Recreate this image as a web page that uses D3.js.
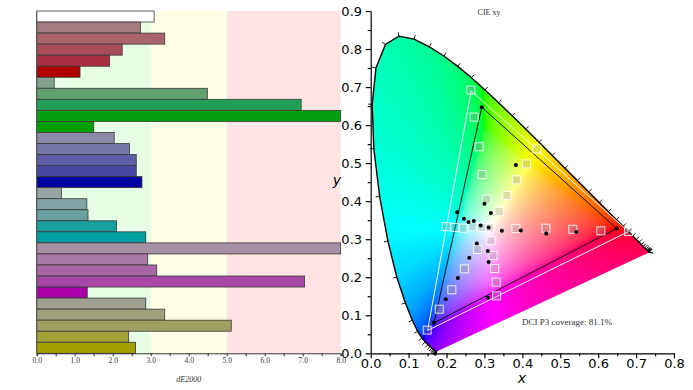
<html>
<head>
    <title>dE2000 and CIE xy</title>
    <script src="https://cdn.jsdelivr.net/npm/d3@7"></script>
    <style>
        body { margin: 0; background: #fff; }
        .serif { font-family: "Liberation Serif", "DejaVu Serif", serif; fill: #333; }
        .sans { font-family: "DejaVu Sans", sans-serif; }
    </style>
</head>
<body>
<script>
    // ---- left chart data: dE2000 per patch ----
    var dE = [3.09, 2.73, 3.37, 2.25, 1.92, 1.14,
              0.46, 4.49, 6.96, 8.0, 1.50,
              2.04, 2.44, 2.62, 2.62, 2.77,
              0.65, 1.32, 1.35, 2.10, 2.87,
              8.0, 2.92, 3.16, 7.05, 1.33,
              2.87, 3.37, 5.12, 2.42, 2.60];
    var barColors = ["#ffffff", "#a67b80", "#a8636b", "#a84c58", "#aa2f40", "#b00000",
                     "#84a08c", "#5fa06c", "#22a055", "#04a010", "#00a000",
                     "#8a8aa6", "#7676a8", "#5e5ea6", "#4848a4", "#0000a0",
                     "#98a4a2", "#80a4a4", "#68a0a2", "#18a0a0", "#00a0a0",
                     "#a890a4", "#a87aa4", "#a866a6", "#a848a6", "#aa00aa",
                     "#a0a090", "#a0a07c", "#a0a062", "#a0a034", "#a0a000"];
    var bandStops = [0, 3, 5, 8];
    var bandColors = ["#e6fde6", "#ffffe6", "#ffe4e4"];

    // ---- CIE 1931 spectral locus, 380-700 nm every 5 nm ----
    var wavelengths = d3.range(380, 701, 5);
    var locusX = [0.1741, 0.1740, 0.1738, 0.1736, 0.1733, 0.1730, 0.1726, 0.1721, 0.1714, 0.1703,
                  0.1689, 0.1669, 0.1644, 0.1611, 0.1566, 0.1510, 0.1440, 0.1355, 0.1241, 0.1096,
                  0.0913, 0.0687, 0.0454, 0.0235, 0.0082, 0.0039, 0.0139, 0.0389, 0.0743, 0.1142,
                  0.1547, 0.1929, 0.2296, 0.2658, 0.3016, 0.3373, 0.3731, 0.4087, 0.4441, 0.4788,
                  0.5125, 0.5448, 0.5752, 0.6029, 0.6270, 0.6482, 0.6658, 0.6801, 0.6915, 0.7006,
                  0.7079, 0.7140, 0.7190, 0.7230, 0.7260, 0.7283, 0.7300, 0.7311, 0.7320, 0.7327,
                  0.7334, 0.7340, 0.7344, 0.7346, 0.7347];
    var locusY = [0.0050, 0.0050, 0.0049, 0.0049, 0.0048, 0.0048, 0.0048, 0.0048, 0.0051, 0.0058,
                  0.0069, 0.0086, 0.0109, 0.0138, 0.0177, 0.0227, 0.0297, 0.0399, 0.0578, 0.0868,
                  0.1327, 0.2007, 0.2950, 0.4127, 0.5384, 0.6548, 0.7502, 0.8120, 0.8338, 0.8262,
                  0.8059, 0.7816, 0.7543, 0.7243, 0.6923, 0.6589, 0.6245, 0.5896, 0.5547, 0.5202,
                  0.4866, 0.4544, 0.4242, 0.3965, 0.3725, 0.3514, 0.3340, 0.3197, 0.3083, 0.2993,
                  0.2920, 0.2859, 0.2809, 0.2770, 0.2740, 0.2717, 0.2700, 0.2689, 0.2680, 0.2673,
                  0.2666, 0.2660, 0.2656, 0.2654, 0.2653];

    // gamut triangles
    var p3Gamut = [[0.680, 0.320], [0.265, 0.690], [0.150, 0.060]];
    var measuredGamut = [[0.649, 0.328], [0.293, 0.647], [0.167, 0.080]];

    // target patches (squares) and measured patches (dots)
    var targets = [[0.314, 0.330],
        [0.383, 0.328], [0.462, 0.329], [0.533, 0.326], [0.607, 0.322], [0.680, 0.320],
        [0.306, 0.405], [0.294, 0.470], [0.286, 0.543], [0.273, 0.621], [0.264, 0.692],
        [0.282, 0.273], [0.247, 0.222], [0.214, 0.167], [0.181, 0.116], [0.149, 0.061],
        [0.293, 0.331], [0.269, 0.333], [0.244, 0.329], [0.222, 0.331], [0.199, 0.333],
        [0.317, 0.296], [0.323, 0.257], [0.327, 0.223], [0.331, 0.187], [0.332, 0.151],
        [0.339, 0.373], [0.359, 0.415], [0.385, 0.456], [0.411, 0.498], [0.438, 0.537]];
    var measured = [[0.311, 0.331], [0.346, 0.322], [0.396, 0.323], [0.463, 0.315], [0.542, 0.319],
        [0.649, 0.328], [0.317, 0.369], [0.300, 0.393], [0.383, 0.495], [0.293, 0.647],
        [0.290, 0.336], [0.272, 0.348], [0.258, 0.345], [0.246, 0.354], [0.228, 0.371],
        [0.280, 0.289], [0.260, 0.251], [0.230, 0.198], [0.198, 0.142], [0.167, 0.080],
        [0.309, 0.269], [0.311, 0.240], [0.309, 0.146]];

    var width = 693, height = 390;

    var svg = d3.select("body").append("svg")
        .attr("width", width)
        .attr("height", height);

    // ================= left: dE2000 bars =================
    var xL = d3.scaleLinear().domain([0, 8]).range([36.7, 340.7]);
    var yL = d3.scaleBand().domain(d3.range(dE.length)).range([11, 353.3]);

    var left = svg.append("g");

    left.selectAll("rect.band")
        .data(bandColors)
        .enter().append("rect")
        .attr("class", "band")
        .attr("x", function(d, i) { return xL(bandStops[i]); })
        .attr("width", function(d, i) { return xL(bandStops[i + 1]) - xL(bandStops[i]); })
        .attr("y", yL.range()[0])
        .attr("height", yL.range()[1] - yL.range()[0])
        .attr("fill", function(d) { return d; });

    left.selectAll("rect.bar")
        .data(dE)
        .enter().append("rect")
        .attr("class", "bar")
        .attr("x", xL(0))
        .attr("y", function(d, i) { return yL(i); })
        .attr("width", function(d) { return xL(d) - xL(0); })
        .attr("height", yL.bandwidth())
        .attr("fill", function(d, i) { return barColors[i]; })
        .attr("stroke", "#3a3a3a")
        .attr("stroke-width", 0.8);

    var axL = left.append("g")
        .attr("transform", "translate(0," + yL.range()[1] + ")")
        .call(d3.axisBottom(xL)
            .tickValues(d3.range(0, 8.01, 0.5))
            .tickSize(3)
            .tickFormat(function(d) { return Number.isInteger(d) ? d.toFixed(1) : ""; }));
    axL.selectAll("text")
        .attr("class", "serif")
        .attr("font-size", 7.5)
        .attr("dy", "0.55em")
        .style("fill", "#333");

    left.append("line")
        .attr("x1", xL(0)).attr("x2", xL(0))
        .attr("y1", yL.range()[0]).attr("y2", yL.range()[1])
        .attr("stroke", "#555");

    left.append("text")
        .attr("class", "serif")
        .attr("x", (xL(0) + xL(8)) / 2)
        .attr("y", 382)
        .attr("text-anchor", "middle")
        .attr("font-size", 8)
        .attr("font-style", "italic")
        .style("fill", "#333")
        .text("dE2000");

    // ================= right: CIE xy =================
    var x = d3.scaleLinear().domain([0, 0.8]).range([370.7, 674]);
    var y = d3.scaleLinear().domain([0, 0.9]).range([353.3, 11]);

    var locus = wavelengths.map(function(w, i) { return [locusX[i], locusY[i]]; });
    var line = d3.line().x(function(d) { return x(d[0]); }).y(function(d) { return y(d[1]); });

    svg.append("clipPath").attr("id", "horseshoe")
        .append("path")
        .attr("d", line(locus) + "Z");

    // colour field: xy -> sRGB, out-of-gamut desaturated, max-normalised
    var canvas = document.createElement("canvas");
    canvas.width = width;
    canvas.height = height;
    var ctx = canvas.getContext("2d");
    var img = ctx.createImageData(width, height);
    function gamma(c) {
        return c <= 0.0031308 ? 12.92 * c : 1.055 * Math.pow(c, 1 / 2.4) - 0.055;
    }
    for (var py = Math.floor(y(0.86)); py <= Math.ceil(y(0)); py++) {
        for (var px = Math.floor(x(0)); px <= Math.ceil(x(0.75)); px++) {
            var cx = x.invert(px + 0.5), cy = y.invert(py + 0.5);
            if (cy <= 0.001) cy = 0.001;
            var X = cx / cy, Y = 1, Z = (1 - cx - cy) / cy;
            var r = 3.2406 * X - 1.5372 * Y - 0.4986 * Z;
            var g = -0.9689 * X + 1.8758 * Y + 0.0415 * Z;
            var b = 0.0557 * X - 0.2040 * Y + 1.0570 * Z;
            var lo = Math.min(r, g, b, 0);
            r = Math.max(r - lo, 0); g = Math.max(g - lo, 0); b = Math.max(b - lo, 0);
            var m = Math.max(r, g, b) || 1;
            var k = (py * width + px) * 4;
            img.data[k] = 255 * gamma(r / m);
            img.data[k + 1] = 255 * gamma(g / m);
            img.data[k + 2] = 255 * gamma(b / m);
            img.data[k + 3] = 255;
        }
    }
    ctx.putImageData(img, 0, 0);

    svg.append("image")
        .attr("x", 0).attr("y", 0)
        .attr("width", width).attr("height", height)
        .attr("href", canvas.toDataURL())
        .attr("clip-path", "url(#horseshoe)");

    // spectral locus outline and wavelength ticks
    svg.append("path")
        .attr("d", line(locus))
        .attr("fill", "none")
        .attr("stroke", "#000")
        .attr("stroke-width", 1.4);

    var wx = x(0.3127), wy = y(0.329);
    var ticks = locus.map(function(d, i) {
        var a = locus[Math.max(i - 1, 0)], c = locus[Math.min(i + 1, locus.length - 1)];
        var tx = x(c[0]) - x(a[0]), ty = y(c[1]) - y(a[1]);
        var len = Math.sqrt(tx * tx + ty * ty);
        var px0 = x(d[0]), py0 = y(d[1]);
        var nx, ny;
        if (len < 0.3) {
            nx = px0 - wx; ny = py0 - wy;
            len = Math.sqrt(nx * nx + ny * ny);
            nx /= len; ny /= len;
        } else {
            nx = ty / len; ny = -tx / len;
            if (nx * (px0 - wx) + ny * (py0 - wy) < 0) { nx = -nx; ny = -ny; }
        }
        return [px0, py0, px0 + nx * 4, py0 + ny * 4];
    });
    svg.selectAll("line.wl")
        .data(ticks)
        .enter().append("line")
        .attr("class", "wl")
        .attr("x1", function(d) { return d[0]; })
        .attr("y1", function(d) { return d[1]; })
        .attr("x2", function(d) { return d[2]; })
        .attr("y2", function(d) { return d[3]; })
        .attr("stroke", "#000")
        .attr("stroke-width", 0.9);

    // gamut triangles
    svg.append("path")
        .attr("d", line(p3Gamut) + "Z")
        .attr("fill", "none")
        .attr("stroke", "#fff")
        .attr("stroke-width", 1);
    svg.append("path")
        .attr("d", line(measuredGamut) + "Z")
        .attr("fill", "none")
        .attr("stroke", "#111")
        .attr("stroke-width", 1);

    // target squares
    svg.selectAll("rect.target")
        .data(targets)
        .enter().append("rect")
        .attr("class", "target")
        .attr("x", function(d) { return x(d[0]) - 4; })
        .attr("y", function(d) { return y(d[1]) - 4; })
        .attr("width", 8)
        .attr("height", 8)
        .attr("fill", "rgba(150,150,150,0.3)")
        .attr("stroke", "rgba(255,255,255,0.85)")
        .attr("stroke-width", 1);

    // measured dots
    svg.selectAll("circle.meas")
        .data(measured)
        .enter().append("circle")
        .attr("class", "meas")
        .attr("cx", function(d) { return x(d[0]); })
        .attr("cy", function(d) { return y(d[1]); })
        .attr("r", 2)
        .attr("fill", "#000");

    // axes
    var minorX = svg.append("g")
        .attr("transform", "translate(0," + y(0) + ")")
        .call(d3.axisBottom(x).tickValues(d3.range(0.05, 0.8, 0.1)).tickSize(3).tickFormat(""));
    minorX.select(".domain").remove();
    var minorY = svg.append("g")
        .attr("transform", "translate(" + x(0) + ",0)")
        .call(d3.axisLeft(y).tickValues(d3.range(0.05, 0.9, 0.1)).tickSize(3).tickFormat(""));
    minorY.select(".domain").remove();

    var axX = svg.append("g")
        .attr("transform", "translate(0," + y(0) + ")")
        .call(d3.axisBottom(x).tickValues(d3.range(0, 0.81, 0.1)).tickSize(5).tickSizeOuter(0)
            .tickFormat(function(d) { return d.toFixed(1); }));
    var axY = svg.append("g")
        .attr("transform", "translate(" + x(0) + ",0)")
        .call(d3.axisLeft(y).tickValues(d3.range(0, 0.91, 0.1)).tickSize(5).tickSizeOuter(0)
            .tickFormat(function(d) { return d.toFixed(1); }));
    svg.selectAll("g.tick line, path.domain").attr("stroke", "#000").attr("stroke-width", 1.2);
    left.selectAll("g.tick line, path.domain").attr("stroke", "#333").attr("stroke-width", 1);
    axX.selectAll("text").attr("class", "sans").attr("font-size", 13).attr("fill", "#000").attr("dy", "0.5em");
    axY.selectAll("text").attr("class", "sans").attr("font-size", 13).attr("fill", "#000").attr("dx", "-0.05em");

    svg.append("text")
        .attr("class", "sans")
        .attr("x", 522).attr("y", 383)
        .attr("text-anchor", "middle")
        .attr("font-size", 14)
        .attr("font-style", "italic")
        .text("x");
    svg.append("text")
        .attr("class", "sans")
        .attr("x", 337).attr("y", 185)
        .attr("text-anchor", "middle")
        .attr("font-size", 14)
        .attr("font-style", "italic")
        .text("y");

    svg.append("text")
        .attr("class", "serif")
        .attr("x", 489).attr("y", 15)
        .attr("text-anchor", "middle")
        .attr("font-size", 8)
        .text("CIE xy");
    svg.append("text")
        .attr("class", "serif")
        .attr("x", 567).attr("y", 325)
        .attr("text-anchor", "middle")
        .attr("font-size", 9)
        .text("DCI P3 coverage: 81.1%");
</script>
</body>
</html>
